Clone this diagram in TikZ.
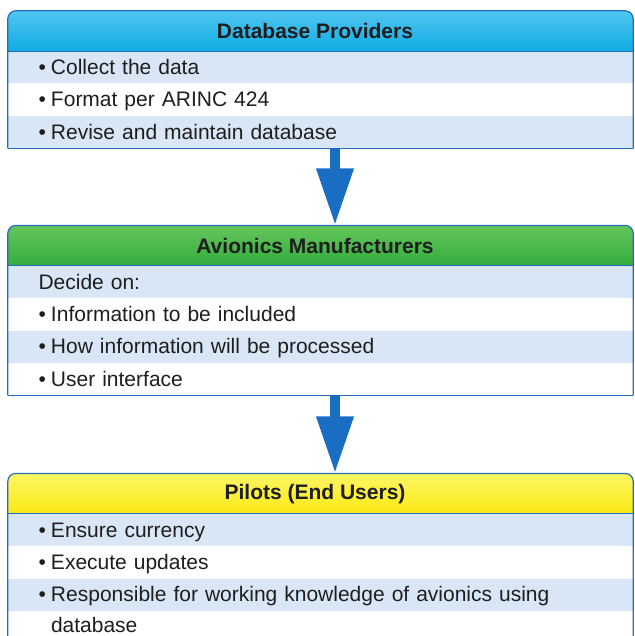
\documentclass[tikz,border=0pt]{standalone}
\usepackage{fontspec}
\setmainfont{Liberation Sans}
\usetikzlibrary{arrows.meta}
\usetikzlibrary{positioning}
\usetikzlibrary{backgrounds}

\definecolor{frameblue}{RGB}{35,110,190}
\definecolor{arrowblue}{RGB}{25,110,195}
\definecolor{stripeblue}{RGB}{216,230,246}
\definecolor{textgray}{RGB}{30,30,30}
\definecolor{cyantop}{RGB}{80,198,240}
\definecolor{cyanbot}{RGB}{0,165,225}
\definecolor{greentop}{RGB}{100,198,90}
\definecolor{greenbot}{RGB}{40,165,55}
\definecolor{yellowtop}{RGB}{255,246,100}
\definecolor{yellowbot}{RGB}{248,230,0}

\tikzset{
  headbox/.style={minimum width=625pt, minimum height=40pt, inner sep=0pt,
    text=textgray, font=\fontsize{21}{25}\selectfont\bfseries},
  rowbox/.style={minimum height=32pt, text width=564pt, inner xsep=30.5pt,
    inner ysep=0pt, text height=17pt, text depth=3pt, align=left,
    text=textgray, font=\fontsize{21}{25}\selectfont},
  bluerow/.style={rowbox, fill=stripeblue},
  whiterow/.style={rowbox, fill=white},
  frame/.style={draw=frameblue, line width=1.2pt},
  flowarrow/.style={draw=arrowblue, line width=10pt, -{Triangle[length=57pt,width=35pt]}},
}
\newcommand{\bul}{\makebox[12.5pt][l]{\textbullet}}

\begin{document}
\begin{tikzpicture}[x=1pt, y=-1pt]
      \useasboundingbox (0,0) rectangle (634,636);

      % database providers
      \node[headbox] (dbhead) at (320.5,31) {\hspace*{-11pt}Database Providers};
      \node[bluerow, below=0pt of dbhead] (db1) {\bul Collect the data};
      \node[whiterow, below=0pt of db1] (db2) {\bul Format per ARINC 424};
      \node[bluerow, below=0pt of db2] (db3) {\bul Revise and maintain database};

      % avionics manufacturers
      \node[headbox, below=77pt of db3] (avhead) {\hspace*{-11pt}Avionics Manufacturers};
      \node[bluerow, below=0pt of avhead] (av1) {Decide on:};
      \node[whiterow, below=0pt of av1] (av2) {\bul Information to be included};
      \node[bluerow, below=0pt of av2] (av3) {\bul How information will be processed};
      \node[whiterow, below=0pt of av3] (av4) {\bul User interface};

      % pilots
      \node[headbox, below=78pt of av4] (plhead) {\hspace*{-11pt}Pilots (End Users)};
      \node[bluerow, below=0pt of plhead] (pl1) {\bul Ensure currency};
      \node[whiterow, below=0pt of pl1] (pl2) {\bul Execute updates};
      \node[bluerow, below=0pt of pl2] (pl3) {\bul Responsible for working knowledge of avionics using};
      \node[whiterow, below=0pt of pl3, minimum height=26pt, text height=17pt, text depth=0pt] (pl4) {\hspace*{12.5pt}database};

      \begin{scope}[on background layer]
        \shade[top color=cyantop, bottom color=cyanbot] ([yshift=-10pt]dbhead.south west) [rounded corners=8pt] |- (dbhead.north) -| ([yshift=-10pt]dbhead.south east) -- cycle;
        \shade[top color=greentop, bottom color=greenbot] ([yshift=-10pt]avhead.south west) [rounded corners=8pt] |- (avhead.north) -| ([yshift=-10pt]avhead.south east) -- cycle;
        \shade[top color=yellowtop, bottom color=yellowbot] ([yshift=-10pt]plhead.south west) [rounded corners=8pt] |- (plhead.north) -| ([yshift=-10pt]plhead.south east) -- cycle;
      \end{scope}

      \draw[frame] (db3.south west) [rounded corners=8pt] |- (dbhead.north) -| (db3.south east);
      \draw[frame] (db3.south west) -- (db3.south east);
      \draw[frame] (dbhead.south west) -- (dbhead.south east);

      \draw[frame] (av4.south west) [rounded corners=8pt] |- (avhead.north) -| (av4.south east);
      \draw[frame] (av4.south west) -- (av4.south east);
      \draw[frame] (avhead.south west) -- (avhead.south east);

      \draw[frame] (pl4.south west) [rounded corners=8pt] |- (plhead.north) -| (pl4.south east);
      \draw[frame] (plhead.south west) -- (plhead.south east);

      \draw[flowarrow] ([xshift=14.5pt]db3.south) -- ([xshift=14.5pt]avhead.north);
      \draw[flowarrow] ([xshift=14.5pt]av4.south) -- ([xshift=14.5pt]plhead.north);

\end{tikzpicture}
\end{document}
